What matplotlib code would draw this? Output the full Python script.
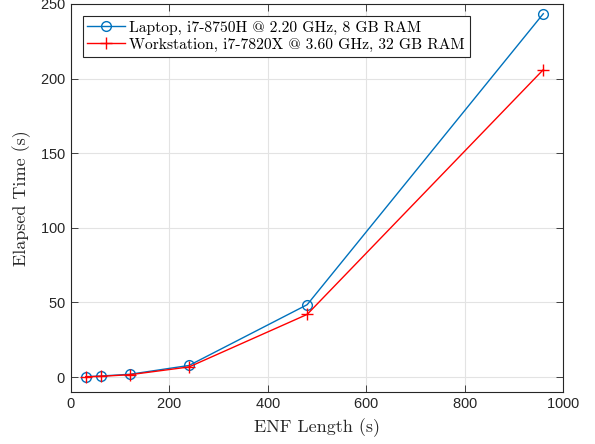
import numpy as np
import matplotlib
matplotlib.use('Agg')
import matplotlib.pyplot as plt

# ENF length (s) vs elapsed time (s)
enf_len = [30, 60, 120, 240, 480, 960]
laptop = [0.3, 0.7, 1.9, 7.8, 48.5, 243.5]
workstation = [0.2, 0.5, 1.6, 6.8, 42.0, 206.0]

lbl_laptop = 'Laptop, i7-8750H @ 2.20 GHz, 8 GB RAM'
lbl_ws = 'Workstation, i7-7820X @ 3.60 GHz, 32 GB RAM'

serif = ['cmr10', 'DejaVu Serif']
plt.rcParams['axes.formatter.use_mathtext'] = True

fig = plt.figure(figsize=(5.95, 4.44), dpi=100)
ax = fig.add_axes([0.1193, 0.1171, 0.8269, 0.8739])

ax.plot(enf_len, laptop, color='#0072BD', marker='o', markersize=7,
        markerfacecolor='none', markeredgewidth=1.0, linewidth=1.0, label=lbl_laptop)
ax.plot(enf_len, workstation, color='#FF0000', marker='+', markersize=9,
        markeredgewidth=1.0, linewidth=1.0, label=lbl_ws)

ax.set_xlim(0, 1000)
ax.set_ylim(-10, 250)
ax.set_xticks([0, 200, 400, 600, 800, 1000])
ax.set_yticks([0, 50, 100, 150, 200, 250])
ax.grid(True, color='#e3e3e3', linewidth=0.8)
ax.set_axisbelow(True)
ax.tick_params(direction='in', top=True, right=True, labelsize=10.5,
               length=5, width=0.6, colors='#262626')
for lab in ax.get_xticklabels() + ax.get_yticklabels():
    lab.set_family(['Liberation Sans', 'DejaVu Sans'])
for sp in ax.spines.values():
    sp.set_color('#262626')
    sp.set_linewidth(0.8)

ax.set_xlabel('ENF Length (s)', family=serif, fontsize=13, color='#262626', labelpad=5)
ax.set_ylabel('Elapsed Time (s)', family=serif, fontsize=13, color='#262626', labelpad=7)

leg = ax.legend(loc='upper left', bbox_to_anchor=(0.024, 0.969), borderaxespad=0,
                fancybox=False, edgecolor='#262626', framealpha=1, borderpad=0.3,
                labelspacing=0.2, handlelength=2.4, handletextpad=0.3,
                prop={'family': serif, 'size': 11.2})
leg.get_frame().set_linewidth(0.8)

fig.savefig('out.png', dpi=100)
